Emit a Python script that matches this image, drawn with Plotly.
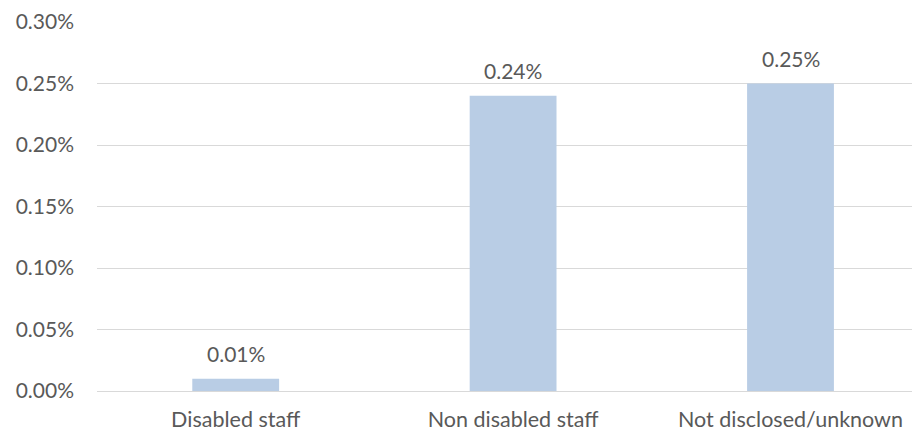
import plotly.graph_objects as go

categories = ["Disabled staff", "Non disabled staff", "Not disclosed/unknown"]
values = [0.0001, 0.0024, 0.0025]
y_ticks = [0, 0.0005, 0.001, 0.0015, 0.002, 0.0025, 0.003]

FONT = "Lato"
TXT = "#595959"

fig = go.Figure()
fig.add_trace(go.Bar(
    x=list(range(len(categories))), y=values,
    marker=dict(color="#B9CDE5", line=dict(width=0)),
    width=0.313,
    hoverinfo="skip",
))
for i, v in enumerate(values):
    fig.add_annotation(x=i, y=v, text=f"{v*100:.2f}%", showarrow=False,
                       yanchor="bottom", yshift=11,
                       font=dict(family=FONT, size=21, color=TXT))

fig.update_layout(
    width=912, height=432,
    margin=dict(l=97, r=0, t=22, b=41, autoexpand=False),
    paper_bgcolor="white", plot_bgcolor="white",
    showlegend=False,
    font=dict(family=FONT, size=21, color=TXT),
    xaxis=dict(range=[-0.5, 2.438], tickmode="array",
               tickvals=list(range(len(categories))), ticktext=categories,
               showgrid=False, zeroline=False, showline=False, ticks="",
               ticklabelstandoff=13, automargin=False,
               tickfont=dict(family=FONT, size=21.5, color=TXT)),
    yaxis=dict(range=[0, 0.003], tickmode="array", tickvals=y_ticks,
               tickformat=".2%", showgrid=True, gridcolor="#D9D9D9",
               gridwidth=1, zeroline=True, zerolinecolor="#D9D9D9",
               zerolinewidth=1, showline=False, ticks="",
               ticklabelstandoff=22, automargin=False,
               tickfont=dict(family=FONT, size=21, color=TXT)),
)
fig.write_html("out.html")
